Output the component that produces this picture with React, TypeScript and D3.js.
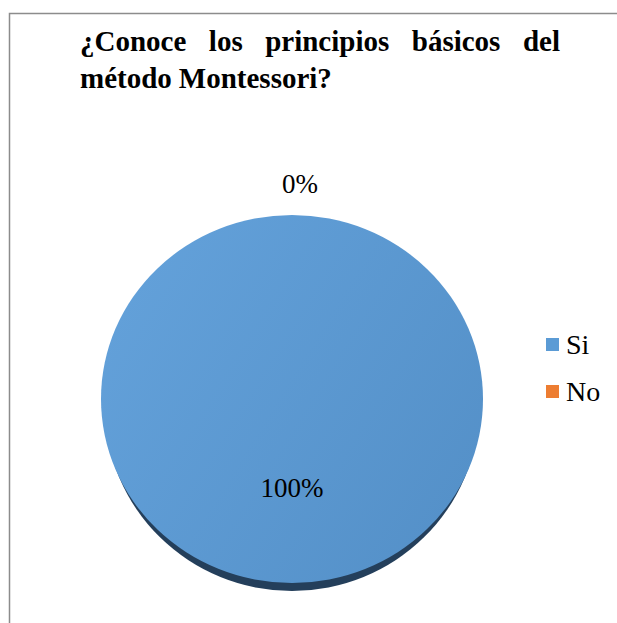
import React, { useEffect, useRef } from "react";
import * as d3 from "d3";

const categories = ["Si", "No"];
const values = [100, 0];
const percentLabels = ["100%", "0%"];
const colors = ["#5B9BD5", "#ED7D31"];
const titleLines = [["¿Conoce", "los", "principios", "básicos", "del"], ["método", "Montessori?"]];

const W = 617;
const H = 623;
const SERIF = "Liberation Serif, Times New Roman, DejaVu Serif, serif";

export default function App() {
  const ref = useRef<SVGSVGElement | null>(null);

  useEffect(() => {
    const svg = d3.select(ref.current);
    svg.selectAll("*").remove();

    const defs = svg.append("defs");
    const grad = defs.append("linearGradient").attr("id", "pieGrad")
      .attr("x1", "0").attr("y1", "0.2").attr("x2", "1").attr("y2", "0.8");
    grad.append("stop").attr("offset", "0").attr("stop-color", "#63a1da");
    grad.append("stop").attr("offset", "1").attr("stop-color", "#5490c8");

    // chart area border (extends beyond viewport right/bottom)
    svg.append("path")
      .attr("d", `M${W + 5},13.5 H9.5 V${H + 5}`)
      .attr("fill", "none").attr("stroke", "#8c8c8c").attr("stroke-width", 1.5);

    // title, justified
    const left = 80, right = 560;
    const lineY = [51, 88];
    titleLines.forEach((words, li) => {
      const g = svg.append("g");
      const texts = words.map((w) =>
        g.append("text").text(w)
          .attr("y", lineY[li])
          .style("font-family", SERIF)
          .attr("font-weight", "bold")
          .attr("font-size", 29)
          .attr("fill", "#000")
      );
      const widths = texts.map((t) => (t.node() as SVGTextElement).getComputedTextLength());
      const justify = li < titleLines.length - 1;
      const total = widths.reduce((a, b) => a + b, 0);
      const gap = justify ? (right - left - total) / (words.length - 1) : 7;
      let x = left;
      texts.forEach((t, i) => {
        t.attr("x", x);
        x += widths[i] + gap;
      });
    });

    // pie
    const cx = 292, cy = 399, rx = 191, ry = 184, depth = 8;
    const pie = d3.pie<number>().sort(null).value((d) => d);
    const arcs = pie(values);
    const arc = d3.arc<d3.PieArcDatum<number>>().innerRadius(0).outerRadius(1);

    const gShadow = svg.append("g").attr("transform", `translate(${cx},${cy + depth}) scale(${rx - 4},${ry})`);
    gShadow.selectAll("path").data(arcs).join("path")
      .attr("d", (d) => arc(d) as string)
      .attr("fill", "#243f5b");

    const gPie = svg.append("g").attr("transform", `translate(${cx},${cy}) scale(${rx},${ry})`);
    gPie.selectAll("path").data(arcs).join("path")
      .attr("d", (d) => arc(d) as string)
      .attr("fill", (d, i) => (i === 0 ? "url(#pieGrad)" : colors[i]));

    // labels
    arcs.forEach((d, i) => {
      const mid = (d.startAngle + d.endAngle) / 2;
      const inside = d.endAngle - d.startAngle > 0.5;
      const r = inside ? 0.53 : 1.1;
      const lx = cx + Math.sin(mid) * r * rx + (inside ? 0 : 8);
      const ly = cy - Math.cos(mid) * r * ry + (inside ? 0 : -4);
      svg.append("text")
        .attr("x", lx).attr("y", ly)
        .attr("text-anchor", "middle")
        .style("font-family", SERIF)
        .attr("font-size", 27)
        .attr("fill", "#000")
        .text(percentLabels[i]);
    });

    // legend
    const legY = d3.scalePoint<string>().domain(categories).range([345, 392]);
    const leg = svg.append("g");
    categories.forEach((c, i) => {
      const y = legY(c) as number;
      leg.append("rect").attr("x", 546).attr("y", y - 7).attr("width", 13).attr("height", 13)
        .attr("fill", colors[i]);
      leg.append("text").attr("x", 566).attr("y", y + 9)
        .style("font-family", SERIF).attr("font-size", 28).attr("fill", "#000")
        .text(c);
    });
  }, []);

  return (
    <svg
      ref={ref}
      width={W}
      height={H}
      style={{ position: "absolute", left: 0, top: 0, display: "block", background: "#fff" }}
    />
  );
}
